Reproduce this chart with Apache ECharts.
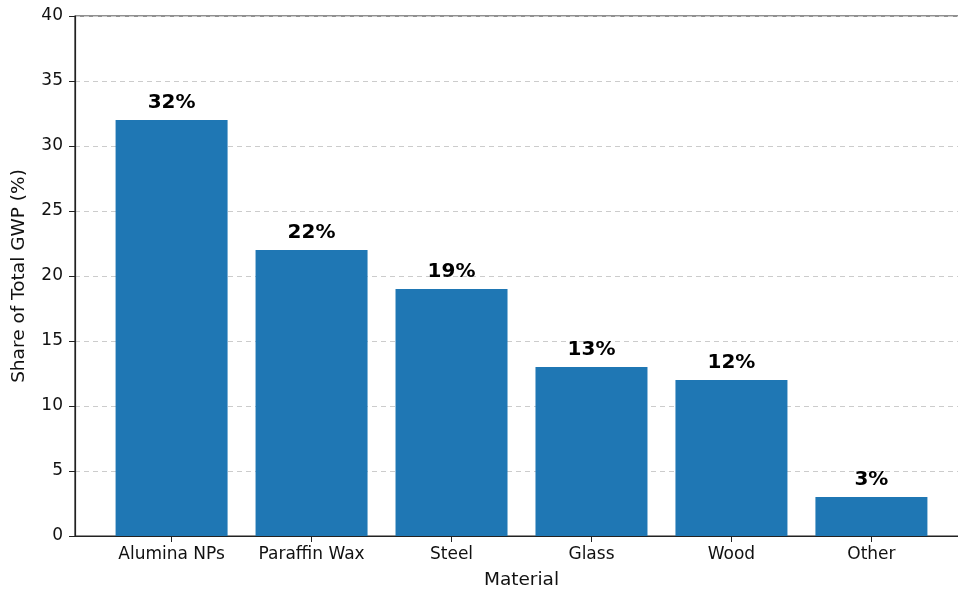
<!DOCTYPE html>
<html>
<head>
<meta charset="utf-8">
<script src="https://cdn.jsdelivr.net/npm/echarts@6/dist/echarts.min.js"></script>
<style>html,body{margin:0;padding:0;background:#fff;}#c{width:958px;height:590px;}</style>
</head>
<body>
<div id="c"></div>
<script>
const categories = ["Alumina NPs", "Paraffin Wax", "Steel", "Glass", "Wood", "Other"];
const shares = [32, 22, 19, 13, 12, 3];
const yTicks = [0, 5, 10, 15, 20, 25, 30, 35, 40];

const chart = echarts.init(document.getElementById('c'));
const font = 'DejaVu Sans';
chart.setOption({
  animation: false,
  textStyle: { fontFamily: font },
  grid: { left: 75, width: 893, top: 16, height: 520, outerBoundsMode: 'none', containLabel: false,
    show: true, borderColor: '#222', borderWidth: 1.2, backgroundColor: 'transparent' },
  xAxis: {
    type: 'value', min: -0.69, max: 5.69,
    name: 'Material', nameLocation: 'middle', nameGap: 35,
    nameTextStyle: { fontSize: 18.5, color: '#111', fontFamily: font },
    axisLine: { show: true, onZero: false, lineStyle: { color: '#222', width: 1.2 } },
    axisTick: { show: true, length: 6, lineStyle: { color: '#222' }, customValues: categories.map((c, i) => i) },
    axisLabel: { show: true, fontSize: 17, color: '#111', margin: 10, fontFamily: font,
      customValues: categories.map((c, i) => i), formatter: v => categories[Math.round(v)] },
    splitLine: { show: false }
  },
  yAxis: {
    type: 'value', min: yTicks[0], max: yTicks[yTicks.length - 1], interval: 5,
    name: 'Share of Total GWP (%)', nameLocation: 'middle', nameGap: 46,
    nameTextStyle: { fontSize: 18.5, color: '#111', fontFamily: font },
    axisLine: { show: true, onZero: false, lineStyle: { color: '#222', width: 1.2 } },
    axisTick: { show: true, length: 6, lineStyle: { color: '#222' } },
    axisLabel: { fontSize: 17, color: '#111', margin: 12, fontFamily: font },
    splitLine: { show: true, lineStyle: { color: '#cccccc', type: [5, 4], width: 1 } }
  },
  series: [{
    type: 'bar',
    data: shares.map((v, i) => [i, v]),
    barWidth: 112,
    itemStyle: { color: '#1f77b4' },
    label: { show: true, position: 'top', distance: 7, formatter: p => p.value[1] + '%',
      fontSize: 20, fontWeight: 'bold', color: '#000', fontFamily: font }
  }]
});
</script>
</body>
</html>
